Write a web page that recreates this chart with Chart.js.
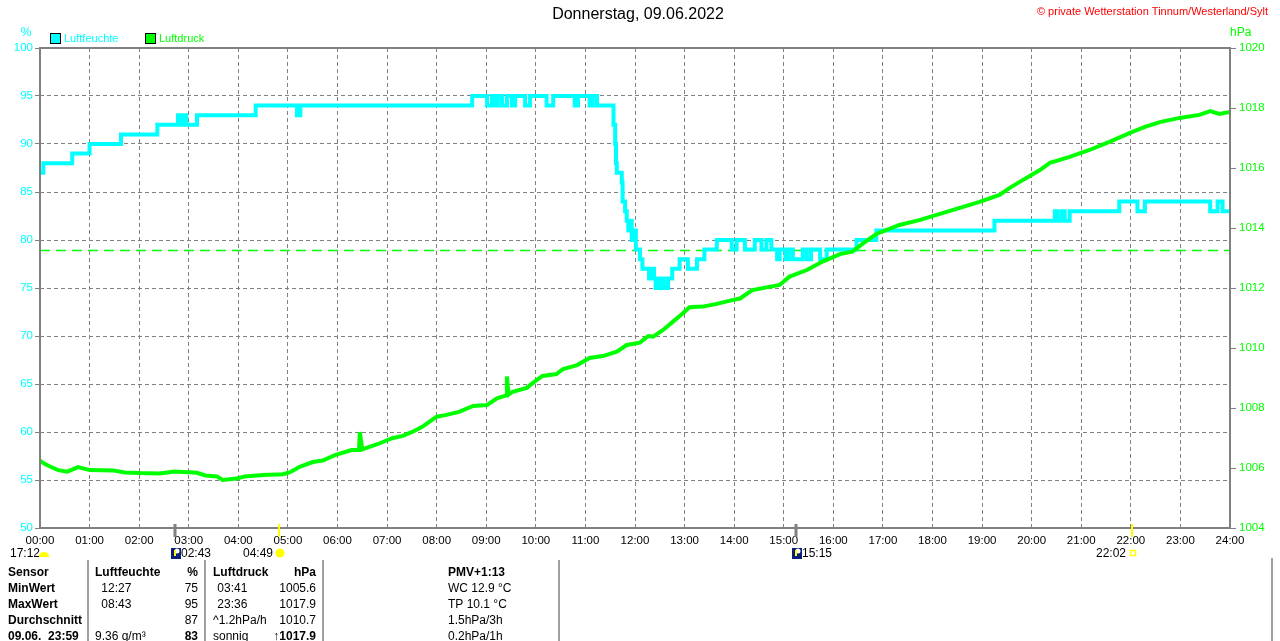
<!DOCTYPE html>
<html><head><meta charset="utf-8">
<script src="https://cdn.jsdelivr.net/npm/chart.js@4.4.0/dist/chart.umd.min.js"></script>
<style>html,body{margin:0;padding:0;background:#fff;overflow:hidden}canvas{display:block}</style>
</head><body>
<canvas id="c" width="1280" height="641"></canvas>
<script>
// ---- data ----
const hourLabels = ["00:00","01:00","02:00","03:00","04:00","05:00","06:00","07:00","08:00","09:00","10:00","11:00","12:00","13:00","14:00","15:00","16:00","17:00","18:00","19:00","20:00","21:00","22:00","23:00","24:00"];
const humMinutes = [0,4,39,60,98,142,167,171,174,177,190,261,311,315,523,541,547,550,554,559,565,571,575,587,593,613,621,647,651,665,669,674,694,696,697,698,704,705,708,710,712,714,716,718,721,726,729,737,740,743,745,748,750,752,755,760,765,774,784,795,804,819,837,843,853,865,873,879,885,892,895,902,906,911,923,928,933,944,952,988,1012,1155,1228,1231,1236,1240,1246,1306,1328,1337,1416,1425,1431,1440];
const humValues  = [87,88,89,90,91,92,93,92,93,92,93,94,93,94,95,94,95,94,95,94,95,94,95,94,95,94,95,94,95,94,95,94,92,90,88,87,86,84,83,82,81,82,80,81,79,78,77,76,77,76,75,76,75,76,75,76,77,78,77,78,79,80,79,80,79,80,79,80,79,78,79,78,79,78,79,78,79,78,79,80,81,82,83,82,83,82,83,84,83,84,83,84,83,83];
const presMinutes = [0,5,12,22,33,46,60,88,103,121,145,163,190,200,214,221,238,248,270,294,302,315,330,342,357,377,386,387,390,409,427,439,451,463,480,492,508,524,541,553,564,565,567,572,589,596,608,625,633,650,665,681,698,710,726,736,742,754,766,778,786,802,819,835,847,862,895,907,928,947,968,983,996,1012,1040,1065,1089,1113,1137,1161,1173,1185,1210,1222,1246,1270,1294,1319,1337,1355,1379,1403,1416,1427,1440];
const presValues  = [1006.25,1006.15,1006.05,1005.93,1005.88,1006.03,1005.93,1005.92,1005.85,1005.83,1005.82,1005.88,1005.84,1005.75,1005.72,1005.6,1005.65,1005.72,1005.77,1005.79,1005.85,1006.05,1006.2,1006.25,1006.43,1006.6,1006.6,1007.2,1006.62,1006.8,1007.0,1007.07,1007.21,1007.38,1007.71,1007.77,1007.88,1008.07,1008.1,1008.32,1008.42,1009.05,1008.45,1008.54,1008.67,1008.83,1009.07,1009.13,1009.3,1009.43,1009.67,1009.73,1009.88,1010.1,1010.18,1010.4,1010.38,1010.6,1010.88,1011.16,1011.36,1011.38,1011.47,1011.58,1011.65,1011.93,1012.1,1012.38,1012.6,1012.88,1013.13,1013.21,1013.49,1013.8,1014.1,1014.27,1014.47,1014.67,1014.87,1015.1,1015.33,1015.53,1015.93,1016.17,1016.37,1016.6,1016.87,1017.17,1017.37,1017.53,1017.67,1017.77,1017.9,1017.8,1017.87];
const refPressure = 1013.25;
const eventTimes = ["02:43","04:49","15:15","22:02"];
const eventKinds = ["moonset","sunrise","moonrise","sunset"];
const prevEventLabel = "17:12";
const titleText = "Donnerstag, 09.06.2022";
const copyrightText = "\u00A9 private Wetterstation Tinnum/Westerland/Sylt";
const seriesNames = ["Luftfeuchte","Luftdruck"];
const colLabels   = ["Sensor","MinWert","MaxWert","Durchschnitt","09.06.  23:59"];
const colHumTime  = ["Luftfeuchte"," 12:27"," 08:43","","9.36 g/m\u00B3"];
const colHumVal   = ["%","75","95","87","83"];
const colPresTime = ["Luftdruck"," 03:41"," 23:36","^1.2hPa/h","sonnig"];
const colPresVal  = ["hPa","1005.6","1017.9","1010.7","\u21911017.9"];
const colExtra    = ["PMV+1:13","WC 12.9 \u00B0C","TP 10.1 \u00B0C","1.5hPa/3h","0.2hPa/1h"];

const CYAN = "#00ffff", GREEN = "#00ff00", GRAY = "#808080";
const FONT = '"Liberation Sans", Arial, sans-serif';

function toMin(s){ const p=s.split(":"); return (+p[0])*60 + (+p[1]); }

const deco = {
  id: 'deco',
  afterDraw(chart){
    const ctx = chart.ctx, a = chart.chartArea, xs = chart.scales.x;
    ctx.save();
    // frame
    ctx.strokeStyle = GRAY; ctx.lineWidth = 2;
    ctx.strokeRect(a.left, a.top, a.right - a.left, a.bottom - a.top);
    // title & copyright
    ctx.textBaseline = 'middle';
    ctx.fillStyle = '#000'; ctx.font = '16px ' + FONT; ctx.textAlign = 'center';
    ctx.fillText(titleText, 638, 15);
    ctx.fillStyle = '#ff0000'; ctx.font = '11px ' + FONT; ctx.textAlign = 'right';
    ctx.fillText(copyrightText, 1268, 12);
    // axis units
    ctx.font = '12px ' + FONT; ctx.textAlign = 'center';
    ctx.fillStyle = CYAN; ctx.fillText('%', 26, 33);
    ctx.fillStyle = GREEN; ctx.textAlign = 'left'; ctx.fillText('hPa', 1230, 33);
    // legend
    const legX = [50, 145], legCol = [CYAN, GREEN];
    ctx.font = '11px ' + FONT;
    for (let i = 0; i < 2; i++){
      ctx.fillStyle = legCol[i]; ctx.fillRect(legX[i], 33, 10, 10);
      ctx.strokeStyle = '#000'; ctx.lineWidth = 1; ctx.strokeRect(legX[i] + 0.5, 33.5, 10, 10);
      ctx.fillStyle = legCol[i]; ctx.textAlign = 'left'; ctx.fillText(seriesNames[i], legX[i] + 14, 38.5);
    }
    // events on time axis
    ctx.font = '12px ' + FONT;
    for (let i = 0; i < eventTimes.length; i++){
      const px = Math.round(xs.getPixelForValue(toMin(eventTimes[i])));
      const k = eventKinds[i];
      const sun = k.startsWith('sun');
      ctx.fillStyle = sun ? '#ffff00' : GRAY;
      ctx.fillRect(px - (sun ? 1 : 1.5), a.bottom - 4, sun ? 2 : 3, 13);
      ctx.fillStyle = '#000';
      if (k === 'moonset' || k === 'moonrise'){
        ctx.fillStyle = '#0a1f7a'; ctx.fillRect(px - 4, 548, 10, 11);
        ctx.fillStyle = '#ffffff'; ctx.beginPath(); ctx.arc(px + 2, 551, 2.5, 0, Math.PI*2); ctx.fill();
        ctx.fillStyle = '#ffff00'; ctx.fillRect(px - 1, 550, 2, 6);
        ctx.fillStyle = '#000'; ctx.textAlign = 'left';
        ctx.fillText(eventTimes[i], px + 6, 554);
      } else if (k === 'sunrise'){
        ctx.textAlign = 'right'; ctx.fillText(eventTimes[i], px - 6, 554);
        ctx.fillStyle = '#ffff00'; ctx.beginPath(); ctx.arc(px + 1, 553, 4.5, 0, Math.PI*2); ctx.fill();
      } else {
        ctx.textAlign = 'right'; ctx.fillText(eventTimes[i], px - 6, 554);
        ctx.strokeStyle = '#ffff00'; ctx.lineWidth = 1.5; ctx.strokeRect(px - 1.5, 550.5, 5, 5);
      }
    }
    ctx.fillStyle = '#000'; ctx.textAlign = 'left'; ctx.fillText(prevEventLabel, 10, 554);
    ctx.fillStyle = '#ffff00'; ctx.beginPath(); ctx.ellipse(44, 556, 5, 4, 0, Math.PI, 0); ctx.fill();
    ctx.fillRect(39, 555, 10, 2);
    // table separators
    ctx.strokeStyle = '#a0a0a0'; ctx.lineWidth = 2;
    [88, 205, 323, 559].forEach(x => { ctx.beginPath(); ctx.moveTo(x, 560); ctx.lineTo(x, 641); ctx.stroke(); });
    ctx.beginPath(); ctx.moveTo(1272, 558); ctx.lineTo(1272, 641); ctx.stroke();
    // table text
    const rowY = [573, 589, 605, 621, 637];
    const bold = 'bold 12px ' + FONT, reg = '12px ' + FONT;
    for (let r = 0; r < 5; r++){
      const y = rowY[r];
      ctx.fillStyle = '#000';
      ctx.textAlign = 'left';
      ctx.font = bold; ctx.fillText(colLabels[r], 8, y);
      ctx.font = r === 0 ? bold : reg; ctx.fillText(colHumTime[r], r === 0 || r === 4 ? 95 : 98, y);
      ctx.fillText(colPresTime[r], r === 1 || r === 2 ? 214 : 213, y);
      ctx.fillText(colExtra[r], 448, y);
      ctx.textAlign = 'right';
      ctx.font = (r === 0 || r === 4) ? bold : reg;
      ctx.fillText(colHumVal[r], 198, y);
      ctx.fillText(colPresVal[r], 316, y);
    }
    ctx.restore();
  }
};

new Chart(document.getElementById('c'), {
  type: 'line',
  data: {
    datasets: [
      { label: seriesNames[1], yAxisID: 'y1', order: 0,
        data: presMinutes.map((m, i) => ({x: m, y: presValues[i]})),
        borderColor: GREEN, borderWidth: 4, pointRadius: 0, tension: 0 },
      { label: seriesNames[0], yAxisID: 'y', order: 1, stepped: 'before',
        data: humMinutes.map((m, i) => ({x: m, y: humValues[i]})),
        borderColor: CYAN, borderWidth: 4, pointRadius: 0 },
      { label: 'Normaldruck', yAxisID: 'y1', order: 2,
        data: [{x: 0, y: refPressure}, {x: 1440, y: refPressure}],
        borderColor: GREEN, borderWidth: 1.5, borderDash: [10, 6], pointRadius: 0 }
    ]
  },
  options: {
    responsive: false, animation: false, devicePixelRatio: 1,
    layout: { padding: { top: 48, left: 0, right: 0, bottom: 0 } },
    plugins: { legend: { display: false }, tooltip: { enabled: false } },
    scales: {
      x: { type: 'linear', min: 0, max: 1440,
        afterFit(s){ s.height = 113; },
        ticks: { stepSize: 60, autoSkip: false, maxRotation: 0, color: '#000',
          font: { family: FONT, size: 11.5 }, padding: 6,
          callback: v => hourLabels[Math.round(v / 60)] },
        grid: { color: GRAY, lineWidth: 1, drawTicks: false },
        border: { display: false, dash: [4, 3] } },
      y: { position: 'left', min: 50, max: 100,
        afterFit(s){ s.width = 40; },
        ticks: { stepSize: 5, color: CYAN, font: { family: FONT, size: 11.5 }, padding: 2,
          callback: v => String(v) },
        grid: { color: GRAY, lineWidth: 1, tickLength: 5 },
        border: { display: false, dash: [4, 3] } },
      y1: { position: 'right', min: 1004, max: 1020,
        afterFit(s){ s.width = 50; },
        ticks: { stepSize: 2, color: GREEN, font: { family: FONT, size: 11.5 }, padding: 3,
          callback: v => String(v) },
        grid: { drawOnChartArea: false, color: GRAY, lineWidth: 1, tickLength: 6 },
        border: { display: false } }
    }
  },
  plugins: [deco]
});
</script>
</body></html>
